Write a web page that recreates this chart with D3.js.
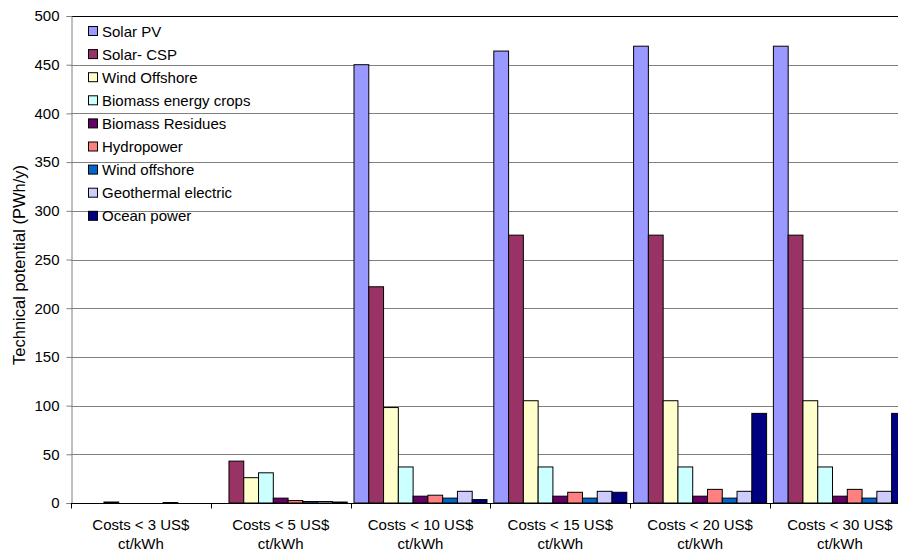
<!DOCTYPE html>
<html>
<head>
<meta charset="utf-8">
<script src="https://cdn.jsdelivr.net/npm/d3@7/dist/d3.min.js"></script>
<style>
  html, body { margin: 0; padding: 0; background: #fff; }
  svg { display: block; font-family: "Liberation Sans", Arial, sans-serif; }
</style>
</head>
<body>
<svg id="chart" width="898" height="552"></svg>
<script>
// Cost thresholds (two-line labels)
const categories = [
  ["Costs < 3 US$", "ct/kWh"],
  ["Costs < 5 US$", "ct/kWh"],
  ["Costs < 10 US$", "ct/kWh"],
  ["Costs < 15 US$", "ct/kWh"],
  ["Costs < 20 US$", "ct/kWh"],
  ["Costs < 30 US$", "ct/kWh"]
];

const seriesNames = [
  "Solar PV", "Solar- CSP", "Wind Offshore", "Biomass energy crops",
  "Biomass Residues", "Hydropower", "Wind offshore", "Geothermal electric", "Ocean power"
];

const seriesColors = [
  "#9999FF", "#993366", "#FFFFCC", "#CCFFFF",
  "#660066", "#FF8080", "#0066CC", "#CCCCFF", "#000080"
];

// Technical potential (PWh/y), one array per series, across the cost thresholds
const solarPV        = [0,   0,   450, 464, 469, 469];
const solarCSP       = [0,   43,  222, 275, 275, 275];
const windOffshoreA  = [1,   26,  98,  105, 105, 105];
const biomassCrops   = [0,   31,  37,  37,  37,  37];
const biomassResid   = [0,   5,   7,   7,   7,   7];
const hydropower     = [0,   2.5, 8,   11,  14,  14];
const windOffshoreB  = [0.5, 1.5, 5,   5,   5,   5];
const geothermal     = [0,   1.5, 12,  12,  12,  12];
const oceanPower     = [0,   1,   3.5, 11,  92,  92];

const seriesValues = [solarPV, solarCSP, windOffshoreA, biomassCrops,
  biomassResid, hydropower, windOffshoreB, geothermal, oceanPower];

const yTicks = [0, 50, 100, 150, 200, 250, 300, 350, 400, 450, 500];

const svg = d3.select("#chart");
const plot = { left: 71, top: 16, bottom: 503, bandW: 139.8 };
const plotRight = plot.left + plot.bandW * categories.length;

const x0 = d3.scaleBand()
  .domain(d3.range(categories.length))
  .range([plot.left, plotRight])
  .paddingInner(0).paddingOuter(0);

const gap = 6.8;
const x1 = d3.scaleBand()
  .domain(d3.range(seriesNames.length))
  .range([gap / 2, x0.bandwidth() - gap / 2])
  .padding(0);

const y = d3.scaleLinear().domain([0, 500]).range([plot.bottom, plot.top]);

// Horizontal gridlines
svg.append("g")
  .selectAll("line")
  .data(yTicks.filter(t => t > 0 && t < 500))
  .join("line")
  .attr("x1", plot.left).attr("x2", 898)
  .attr("y1", d => Math.round(y(d)) + 0.5).attr("y2", d => Math.round(y(d)) + 0.5)
  .attr("stroke", "#808080").attr("stroke-width", 1);

// Top border of plot area
svg.append("line")
  .attr("x1", plot.left).attr("x2", 898)
  .attr("y1", Math.round(y(500)) + 0.5).attr("y2", Math.round(y(500)) + 0.5)
  .attr("stroke", "#000").attr("stroke-width", 1);

// Bars
const groups = svg.append("g")
  .selectAll("g")
  .data(categories.map((c, i) => i))
  .join("g")
  .attr("transform", i => `translate(${x0(i)},0)`);

groups.selectAll("rect")
  .data(i => seriesValues.map((vals, s) => ({ s, v: vals[i] })))
  .join("rect")
  .filter(d => d.v > 0)
  .attr("x", d => x1(d.s))
  .attr("width", x1.bandwidth())
  .attr("y", d => y(d.v))
  .attr("height", d => y(0) - y(d.v))
  .attr("fill", d => seriesColors[d.s])
  .attr("stroke", "#000")
  .attr("stroke-width", 1);

// Y axis
const yAxis = d3.axisLeft(y).tickValues(yTicks).tickSize(5).tickPadding(7);
const yG = svg.append("g")
  .attr("transform", `translate(${plot.left + 0.5},0)`)
  .call(yAxis);
yG.select(".domain").attr("stroke", "#808080");
yG.selectAll(".tick line").attr("stroke", "#808080");
yG.selectAll(".tick text")
  .attr("font-size", 15).attr("fill", "#000")
  .attr("font-family", "Liberation Sans, Arial, sans-serif");

// X axis with ticks at category boundaries
const xG = svg.append("g").attr("transform", `translate(0,${Math.round(y(0)) + 0.5})`);
xG.append("line")
  .attr("x1", plot.left).attr("x2", 898)
  .attr("stroke", "#000").attr("stroke-width", 1);
xG.selectAll("line.tk")
  .data(d3.range(categories.length + 1))
  .join("line").attr("class", "tk")
  .attr("x1", i => Math.round(plot.left + i * plot.bandW) + 0.5)
  .attr("x2", i => Math.round(plot.left + i * plot.bandW) + 0.5)
  .attr("y1", 0).attr("y2", 5)
  .attr("stroke", "#000");

const labels = svg.append("g")
  .selectAll("text")
  .data(categories.map((c, i) => ({ c, i })))
  .join("text")
  .attr("x", d => x0(d.i) + x0.bandwidth() / 2)
  .attr("y", 530)
  .attr("text-anchor", "middle")
  .attr("font-size", 15)
  .attr("fill", "#000");
labels.append("tspan").text(d => d.c[0]);
labels.append("tspan")
  .attr("x", d => x0(d.i) + x0.bandwidth() / 2)
  .attr("dy", 18.5)
  .text(d => d.c[1]);

// Y axis title
svg.append("text")
  .attr("transform", `translate(25,${265}) rotate(-90)`)
  .attr("text-anchor", "middle")
  .attr("font-size", 16.5)
  .attr("fill", "#000")
  .text("Technical potential (PWh/y)");

// Legend
const legend = svg.append("g").attr("transform", "translate(88,31)");
const item = legend.selectAll("g")
  .data(seriesNames.map((n, i) => ({ n, i })))
  .join("g")
  .attr("transform", d => `translate(0,${d.i * 23.1})`);
item.append("rect")
  .attr("x", 0.5).attr("y", -4.5)
  .attr("width", 9).attr("height", 9)
  .attr("fill", d => seriesColors[d.i])
  .attr("stroke", "#000");
item.append("text")
  .attr("x", 14).attr("y", 5.5)
  .attr("font-size", 15)
  .attr("fill", "#000")
  .text(d => d.n);
</script>
</body>
</html>
